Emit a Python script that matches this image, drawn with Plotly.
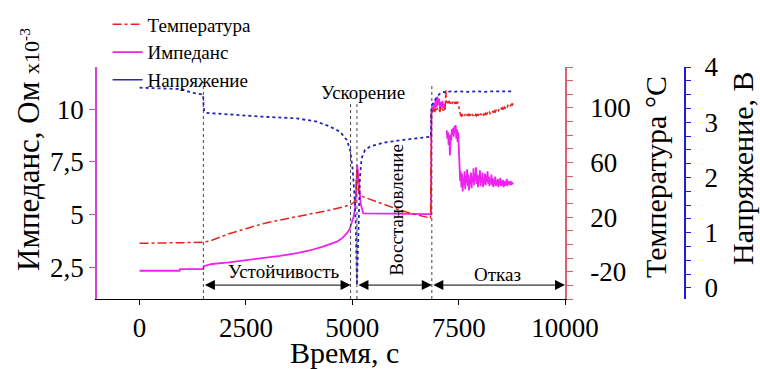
import plotly.graph_objects as go

# ---- time axes (s) and measured series ----
# impedance, Ohm x10^-3
t_imp_pre = [0, 940, 950, 1500, 1510, 1700, 2100, 2500, 2900, 3300, 3700, 4000,
             4310, 4500, 4640, 4760, 4870, 4940, 4990, 5030, 5060, 5085, 5100,
             5115, 5130, 5160, 5200, 5260, 5600, 6200, 6850]
imp_pre = [2.34, 2.34, 2.42, 2.42, 2.56, 2.66, 2.74, 2.83, 2.93, 3.04, 3.17, 3.30,
           3.48, 3.60, 3.72, 3.88, 4.11, 4.32, 4.60, 4.90, 5.22, 5.80, 6.60,
           7.35, 7.10, 6.20, 5.50, 5.06, 5.05, 5.04, 5.02]

t_imp_fail_a = [6860] + list(range(6880, 7181, 20))
imp_fail_a = [9.8, 10.1, 9.9, 10.3, 10.0, 10.45, 10.1, 10.6, 10.2, 10.5, 10.0,
              10.35, 10.1, 10.4, 10.05, 10.25, 9.95]

t_imp_fail_b = list(range(7220, 7506, 15))
imp_fail_b = [9.0, 8.6, 8.9, 8.3, 8.75, 7.8, 8.8, 8.5, 9.05, 8.8,
              9.1, 8.7, 9.2, 8.9, 9.25, 8.6, 9.05, 8.45, 8.9, 8.2]

t_imp_fail_c = list(range(7520, 8781, 15))
imp_fail_c = [7.30, 6.60, 7.05, 6.30, 6.95, 6.10, 6.75, 6.40, 7.05, 6.20,
              6.85, 6.50, 7.15, 6.35, 6.90, 6.15, 6.70, 6.45, 7.00, 6.25,
              6.80, 6.55, 7.20, 6.40, 6.95, 6.60, 7.25, 6.45, 6.90, 6.30,
              6.85, 6.55, 7.10, 6.35, 6.80, 6.50, 7.00, 6.30, 6.75, 6.45,
              6.95, 6.40, 6.85, 6.55, 7.05, 6.45, 6.80, 6.35, 6.70, 6.50,
              6.90, 6.40, 6.75, 6.30, 6.65, 6.45, 6.80, 6.35, 6.60, 6.40,
              6.70, 6.30, 6.60, 6.45, 6.75, 6.35, 6.55, 6.40, 6.65, 6.30,
              6.60, 6.35, 6.55, 6.40, 6.70, 6.35, 6.60, 6.45, 6.55, 6.40,
              6.60, 6.40, 6.55, 6.45, 6.50]

# temperature, deg C
t_temp_pre = [0, 1500, 1700, 1900, 2100, 2500, 2900, 3300, 3700, 4100, 4480, 4800,
              4950, 5050, 5090, 5110, 5130, 5160, 5200, 5420, 5700, 6040, 6400, 6840]
temp_pre = [0.8, 1.5, 3.0, 5.2, 7.8, 11.5, 15.2, 17.9, 20.3, 22.7, 25.2, 27.6,
            29.0, 31.0, 40.0, 55.0, 45.0, 37.0, 35.5, 33.0, 30.0, 26.0, 22.5, 19.3]

t_temp_fail_a = [6860] + list(range(6880, 7181, 20)) + [7200, 7215]
temp_fail_a = [96.0, 98.5, 96.5, 99.0, 97.0, 99.5, 97.5, 100.0, 98.0, 99.0, 97.0,
               100.5, 98.5, 99.5, 98.0, 100.0, 99.0, 113.0, 103.0]

t_temp_fail_b = list(range(7230, 7501, 15)) + [7515, 7530, 7545]
temp_fail_b = [104.5, 103.5, 105.0, 104.0, 104.5, 103.0, 105.0, 104.0, 103.5, 104.5,
               103.5, 104.5, 103.0, 104.0, 103.5, 104.5, 103.5, 104.0, 103.0,
               99.0, 95.5, 94.5]

t_temp_fail_c = list(range(7560, 8781, 20))
temp_fail_c = [94.0, 95.5, 93.8, 95.2, 94.2, 95.6, 93.9, 95.0, 94.4, 95.8,
               94.1, 95.3, 93.7, 95.1, 94.5, 95.4, 94.0, 95.2, 94.3, 95.6,
               94.4, 95.5, 94.1, 95.8, 94.6, 96.0, 94.8, 95.7, 95.0, 96.2,
               95.3, 96.4, 95.5, 96.8, 95.9, 97.2, 96.3, 97.6, 96.6, 97.9,
               97.0, 98.3, 97.4, 98.8, 97.9, 99.2, 98.4, 99.7, 98.8, 100.2,
               99.4, 100.6, 99.9, 101.2, 100.5, 101.8, 101.0, 102.3, 101.6, 102.8,
               102.2, 103.3]

# voltage, V
t_volt = [0, 900, 1000, 1100, 1200, 1350, 1495, 1505, 1520, 1560, 1700, 2130, 2900,
          3700, 4170, 4480, 4710, 4870, 4950, 5010, 5050, 5080, 5110, 5140, 5180,
          5220, 5300, 5420, 5730, 6200, 6850,
          6860, 6900, 6950, 7000, 7050, 7100, 7150, 7200, 7300, 7400, 7500, 7700,
          7900, 8100, 8300, 8500, 8780]
volt = [3.625, 3.61, 3.60, 3.57, 3.54, 3.52, 3.50, 3.30, 3.20, 3.17, 3.16, 3.14, 3.10,
        3.07, 3.01, 2.92, 2.83, 2.68, 2.50, 2.14, 1.70, 1.20, 0.05, 0.80, 2.00,
        2.35, 2.50, 2.56, 2.63, 2.68, 2.74,
        3.30, 3.35, 3.42, 3.47, 3.51, 3.54, 3.55, 3.53, 3.56, 3.55, 3.56, 3.55,
        3.56, 3.55, 3.56, 3.555, 3.56]

# phase boundaries (s)
phase_t = [1500, 4960, 5110, 6870]
x_end = 10000

x_ticks = [0, 2500, 5000, 7500, 10000]
x_ticktext = ["0", "2500", "5000", "7500", "10000"]
imp_ticks = [2.5, 5, 7.5, 10]
imp_ticktext = ["2,5", "5", "7,5", "10"]
temp_ticks = [-40, -30, -20, -10, 0, 10, 20, 30, 40, 50, 60, 70, 80, 90, 100, 110, 120, 130]
temp_ticktext = ["", "", "-20", "", "", "", "20", "", "", "", "60", "", "", "", "100", "", "", ""]
volt_ticks = [0, 0.25, 0.5, 0.75, 1, 1.25, 1.5, 1.75, 2, 2.25, 2.5, 2.75, 3, 3.25, 3.5, 3.75, 4]
volt_ticktext = ["0", "", "", "", "1", "", "", "", "2", "", "", "", "3", "", "", "", "4"]

FONT = "Liberation Serif"
RED = "#e52421"
MAG = "#ee22ee"
BLUE = "#2424b8"

t_imp = t_imp_pre + t_imp_fail_a + [7200] + t_imp_fail_b + t_imp_fail_c
imp = imp_pre + imp_fail_a + [None] + imp_fail_b + imp_fail_c
t_temp = t_temp_pre + t_temp_fail_a + t_temp_fail_b + t_temp_fail_c
temp = temp_pre + temp_fail_a + temp_fail_b + temp_fail_c

fig = go.Figure()
fig.add_trace(go.Scatter(x=t_temp, y=temp, name="Температура", yaxis="y2",
                         mode="lines", line=dict(color=RED, width=1.5, dash="dashdot")))
fig.add_trace(go.Scatter(x=t_imp, y=imp, name="Импеданс", yaxis="y",
                         mode="lines", connectgaps=False,
                         line=dict(color=MAG, width=1.8)))
fig.add_trace(go.Scatter(x=[None], y=[None], name="Напряжение", yaxis="y3",
                         mode="lines", line=dict(color="#2a2aa8", width=1.5)))
fig.add_trace(go.Scatter(x=t_volt, y=volt, name="Напряжение", yaxis="y3",
                         mode="lines", showlegend=False,
                         line=dict(color=BLUE, width=1.8, dash="dot")))

# vertical phase markers
line_tops = [0.93, 0.85, 0.85, 0.93]
for tx, top in zip(phase_t, line_tops):
    fig.add_shape(type="line", xref="x", yref="paper", x0=tx, x1=tx, y0=0, y1=top,
                  line=dict(color="#444444", width=1, dash="dot"))

# double-headed phase arrows
spans = [(phase_t[0], phase_t[1]), (phase_t[2], phase_t[3]), (phase_t[3], x_end)]
for a, b in spans:
    fig.add_annotation(x=b, y=0.06, xref="x", yref="paper", ax=a, ay=0,
                       axref="x", ayref="pixel", text="", showarrow=True,
                       arrowhead=2, arrowsize=2, arrowwidth=1, arrowcolor="black",
                       arrowside="end+start")

lab = dict(family=FONT, size=19, color="black")
mid = dict(showarrow=False, xanchor="center", yanchor="middle")
fig.add_annotation(x=3400, y=0.118, xref="x", yref="paper", text="Устойчивость",
                   font=lab, **mid)
fig.add_annotation(x=5250, y=0.892, xref="x", yref="paper", text="Ускорение",
                   font=lab, **mid)
fig.add_annotation(x=6050, y=0.385, xref="x", yref="paper", text="Восстановление",
                   font=lab, textangle=-90, **mid)
fig.add_annotation(x=8420, y=0.104, xref="x", yref="paper", text="Отказ",
                   font=lab, **mid)

# axis titles
tfont = dict(family=FONT, size=30, color="black")
fig.add_annotation(x=(28 - 97) / 588, y=(299 - 150) / 232, xref="paper", yref="paper",
                   text="Импеданс, Ом <span style='font-size:22px'>x10<sup>-3</sup></span>",
                   font=dict(family=FONT, size=31, color="black"), textangle=-90, **mid)
fig.add_annotation(x=(655 - 97) / 588, y=(299 - 177) / 232, xref="paper", yref="paper",
                   text="Температура °C", font=tfont, textangle=-90, **mid)
fig.add_annotation(x=(742 - 97) / 588, y=(299 - 168) / 232, xref="paper", yref="paper",
                   text="Напряжение, В", font=tfont, textangle=-90, **mid)
fig.add_annotation(x=(344 - 97) / 588, y=(299 - 352) / 232, xref="paper", yref="paper",
                   text="Время, с", font=tfont, **mid)

tick_font = dict(family=FONT, size=27, color="black")
fig.update_layout(
    width=760, height=369,
    margin=dict(l=97, r=75, t=67, b=70, autoexpand=False),
    paper_bgcolor="white", plot_bgcolor="white",
    font=dict(family=FONT, color="black"),
    showlegend=True,
    legend=dict(x=0.018, y=1.265, xanchor="left", yanchor="top",
                bgcolor="rgba(0,0,0,0)", font=dict(family=FONT, size=19),
                tracegroupgap=0, itemwidth=30),
    xaxis=dict(domain=[0, 468 / 588], range=[-1000, 10000],
               tickvals=x_ticks, ticktext=x_ticktext, ticks="outside", ticklen=5,
               tickcolor="black", showline=True, linecolor="black", linewidth=1,
               showgrid=False, zeroline=False, tickfont=tick_font),
    yaxis=dict(range=[1, 12], tickvals=imp_ticks, ticktext=imp_ticktext,
               ticks="outside", ticklen=6, tickcolor="#d444d4", showline=True,
               linecolor="#d444d4", linewidth=1.5, showgrid=False, zeroline=False,
               tickfont=tick_font),
    yaxis2=dict(overlaying="y", anchor="x", side="right", range=[-40, 130],
                tickvals=temp_ticks, ticktext=temp_ticktext, ticks="outside",
                ticklen=6, tickcolor="#e0606a", showline=True, linecolor="#e0606a",
                linewidth=1.5, showgrid=False, zeroline=False, tickfont=tick_font,
                ticklabelstandoff=12),
    yaxis3=dict(overlaying="y", anchor="free", position=1.0, side="right",
                range=[-0.2, 4], tickvals=volt_ticks, ticktext=volt_ticktext,
                ticks="outside", ticklen=5, tickcolor="#1c1ce0", showline=True,
                linecolor="#1c1ce0", linewidth=2, showgrid=False, zeroline=False,
                tickfont=tick_font, ticklabelstandoff=8),
)

fig.write_html("out.html")
